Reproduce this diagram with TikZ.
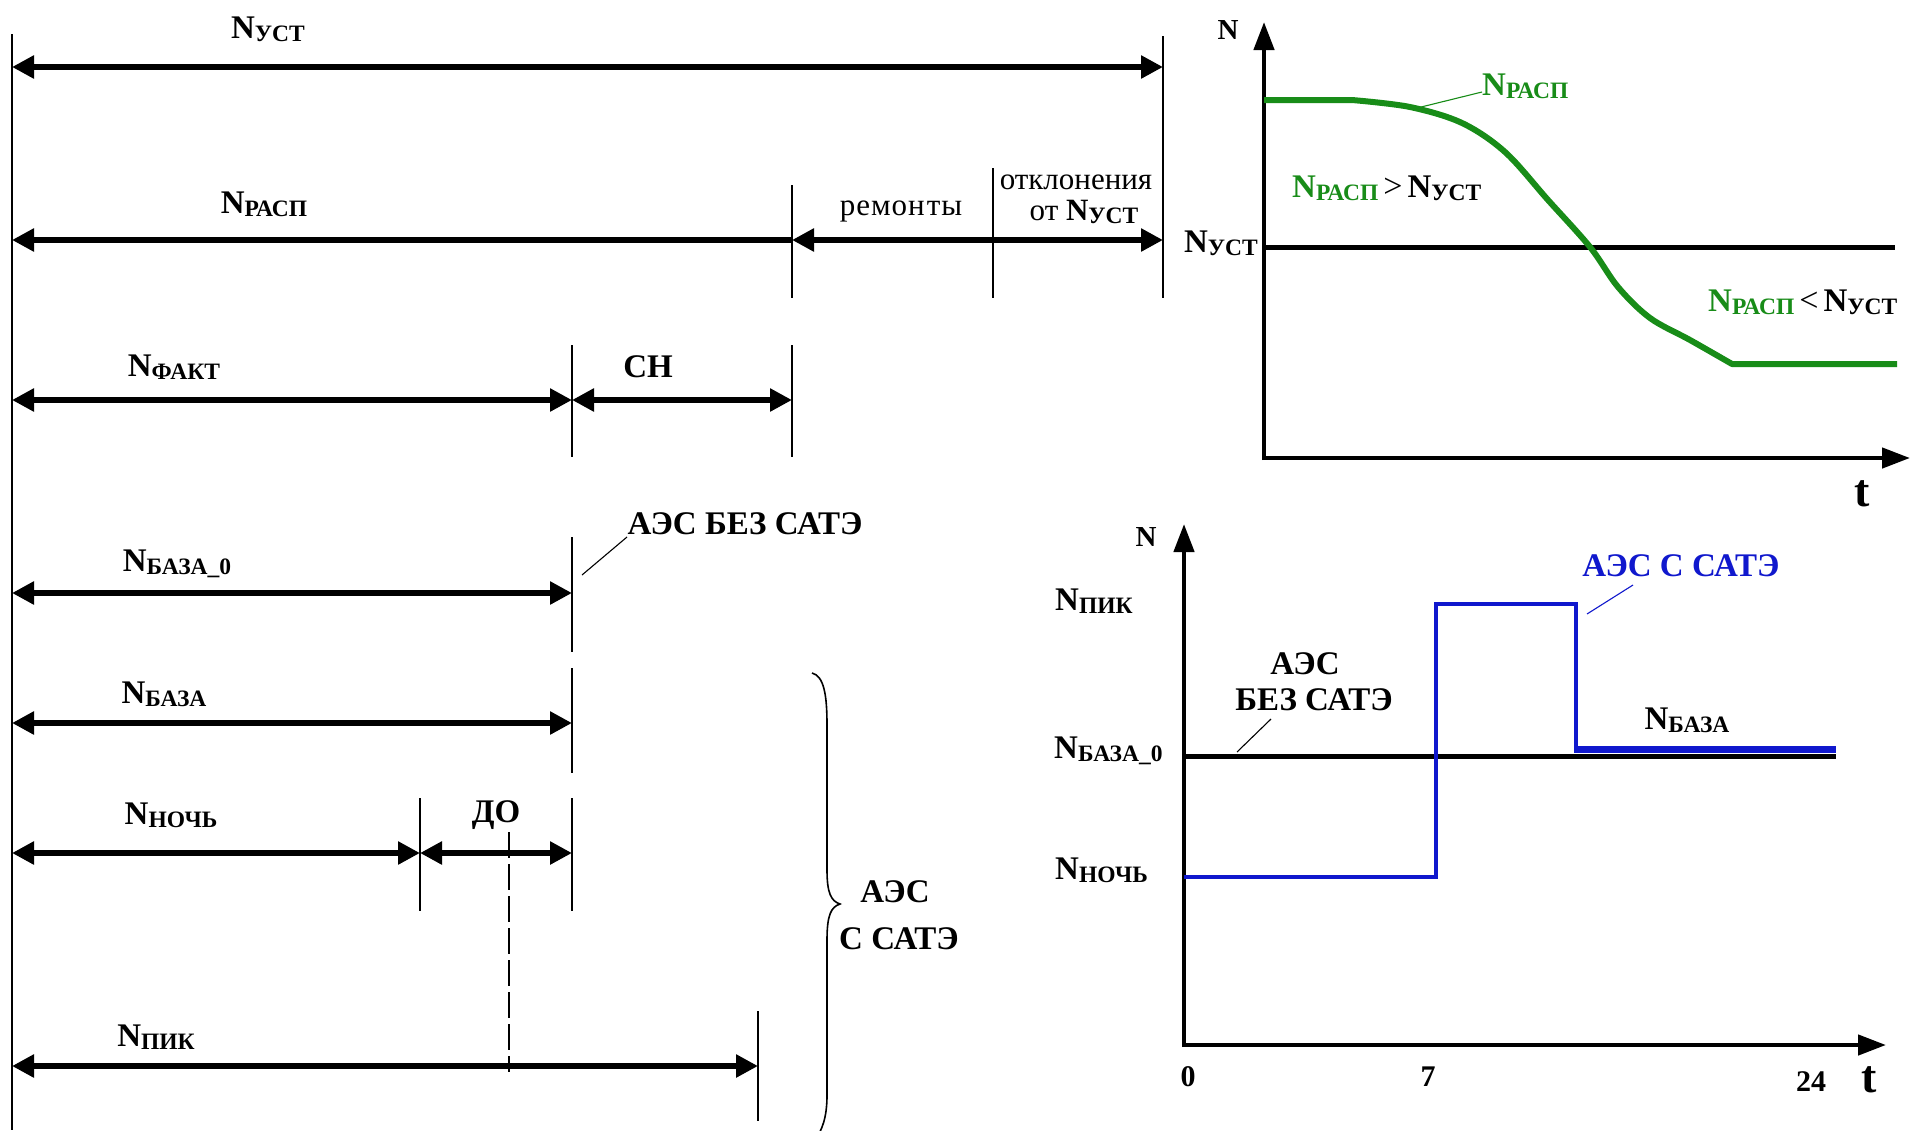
\documentclass[tikz,border=0pt]{standalone}
\usepackage{fontspec}
\setmainfont{Liberation Serif}
\usetikzlibrary{arrows.meta}
\definecolor{gr}{RGB}{24,140,24}
\definecolor{bl}{RGB}{16,24,205}
\newcommand{\NN}[1]{N{\fontsize{23.5}{25}\selectfont\raisebox{-3pt}{#1}}}
\newcommand{\cmpsym}[1]{{\mdseries\fontsize{34}{36}\selectfont\kern5pt #1\kern5pt}}
\begin{document}
\begin{tikzpicture}[x=1pt,y=-1pt,
  dim/.style={line width=6pt,{Triangle[length=22pt,width=22pt]}-{Triangle[length=22pt,width=22pt]}},
  diml/.style={line width=6pt,{Triangle[length=22pt,width=22pt]}-},
  lim/.style={line width=1.6pt},
  ax/.style={line width=4.5pt,-{Triangle[length=28pt,width=20pt]}},
  lb/.style={inner sep=0pt,font=\bfseries\fontsize{33}{36}\selectfont},
  rg/.style={inner sep=0pt,font=\fontsize{31}{34}\selectfont},
  dig/.style={inner sep=0pt,font=\bfseries\fontsize{30}{32}\selectfont},
  leader/.style={line width=1.1pt}]
\useasboundingbox (0,0) rectangle (1910,1130);
\fill[white] (0,0) rectangle (1910,1130);

% ---------- left diagram ----------
\coordinate (top0) at (12,34);
\coordinate (bot0) at (12,1130);
\draw[line width=2pt] (top0) -- (bot0);

% row 1
\coordinate (a1) at (12,67); \coordinate (b1) at (1163,67);
\coordinate (v1t) at (1163,36); \coordinate (v1b) at (1163,298);
\draw[lim] (v1t) -- (v1b);
\draw[dim] (a1) -- (b1);
\node[lb] (nust) at (268,29) {\NN{УСТ}};

% row 2
\coordinate (a2) at (12,240); \coordinate (m2) at (792,240); \coordinate (b2) at (1163,240);
\draw[lim] (792,185) coordinate (v2t) -- (792,298) coordinate (v2b);
\draw[lim] (993,168) coordinate (v3t) -- (993,298) coordinate (v3b);
\draw[diml] (a2) -- (m2);
\draw[dim] (m2) -- (b2);
\node[lb] (nrasp) at (264,204) {\NN{РАСП}};
\node[rg] (rem) at (901,211) {р\kern1pt е\kern1pt м\kern1pt о\kern1pt н\kern2pt т\kern1pt ы};
\node[rg] (otkl) at (1076,182) {отклонения};
\node[rg] (otn) at (1084,212) {от \textbf{\NN{УСТ}}};

% row 3
\coordinate (a3) at (12,400); \coordinate (m3) at (572,400); \coordinate (b3) at (792,400);
\draw[lim] (572,345) coordinate (v4t) -- (572,457) coordinate (v4b);
\draw[lim] (792,345) coordinate (v5t) -- (792,457) coordinate (v5b);
\draw[dim] (a3) -- (m3);
\draw[dim] (m3) -- (b3);
\node[lb] (nfakt) at (174,367) {\NN{ФАКТ}};
\node[lb] (sn) at (648,367) {СН};

% row 4
\coordinate (a4) at (12,593); \coordinate (b4) at (572,593);
\draw[lim] (572,537) coordinate (v6t) -- (572,652) coordinate (v6b);
\draw[dim] (a4) -- (b4);
\node[lb] (nbaza0) at (177,564) {\NN{БАЗА\_0}};
\node[lb] (bez) at (745,524) {АЭС БЕЗ САТЭ};
\coordinate (l1a) at (582,575); \coordinate (l1b) at (627,537);
\draw[leader] (l1a) -- (l1b);

% row 5
\coordinate (a5) at (12,723); \coordinate (b5) at (572,723);
\draw[lim] (572,668) coordinate (v7t) -- (572,773) coordinate (v7b);
\draw[dim] (a5) -- (b5);
\node[lb] (nbaza) at (164,694) {\NN{БАЗА}};

% row 6
\coordinate (a6) at (12,853); \coordinate (m6) at (420,853); \coordinate (b6) at (572,853);
\draw[lim] (420,798) coordinate (v8t) -- (420,911) coordinate (v8b);
\draw[lim] (572,798) coordinate (v9t) -- (572,911) coordinate (v9b);
\draw[dim] (a6) -- (m6);
\draw[dim] (m6) -- (b6);
\node[lb] (nnoch) at (171,815) {\NN{НОЧЬ}};
\node[lb] (do) at (496,815) {ДО};
\coordinate (dsh1) at (509,832); \coordinate (dsh2) at (509,1072);
\draw[line width=1.4pt,dash pattern=on 26pt off 6pt] (dsh1) -- (dsh2);

% row 7
\coordinate (a7) at (12,1066); \coordinate (b7) at (758,1066);
\draw[lim] (758,1011) coordinate (v10t) -- (758,1121) coordinate (v10b);
\draw[dim] (a7) -- (b7);
\node[lb] (npik) at (156,1037) {\NN{ПИК}};

% brace
\draw[line width=1.6pt] (812,673) .. controls (824,676) and (827,695) .. (827,725)
  -- (827,870) .. controls (827,893) and (831,901) .. (840,904)
  .. controls (831,907) and (827,915) .. (827,940)
  -- (827,1095) .. controls (827,1118) and (822,1130) .. (815,1140);
\node[lb] (aes1) at (895,892) {АЭС};
\node[lb] (aes2) at (899,939) {С САТЭ};

% ---------- top right chart ----------
\coordinate (o1) at (1264,458);
\coordinate (y1) at (1264,22);
\coordinate (x1) at (1910,458);
\draw[ax] (1264,460) -- (y1);
\draw[ax] (1262,458) -- (x1);
\node[lb,font=\bfseries\fontsize{29}{32}\selectfont] (n1) at (1228,30) {N};
\node[lb,font=\bfseries\fontsize{46}{50}\selectfont] (t1) at (1862,494) {t};
\coordinate (u1) at (1264,247); \coordinate (u2) at (1895,247);
\draw[line width=5pt] (u1) -- (u2);
\node[lb,anchor=east] (nust2) at (1258,243) {\NN{УСТ}};

\draw[gr,line width=6pt,line join=round] (1264,100) -- (1352,100)
  plot[smooth,tension=0.55] coordinates {(1352,100) (1410,107) (1462,123) (1505,152) (1548,200) (1590,247) (1618,287) (1650,318) (1690,340) (1732,364)}
  -- (1897,364);
\coordinate (gl1) at (1413,109); \coordinate (gl2) at (1482,92);
\draw[gr,leader] (gl1) -- (gl2);
\node[lb,gr,anchor=west] (nrasp2) at (1482,86) {\NN{РАСП}};
\node[lb,anchor=west] (cmp1) at (1292,188) {\textcolor{gr}{\NN{РАСП}}\cmpsym{>}\NN{УСТ}};
\node[lb,anchor=west] (cmp2) at (1708,302) {\textcolor{gr}{\NN{РАСП}}\cmpsym{<}\NN{УСТ}};

% ---------- bottom right chart ----------
\coordinate (o2) at (1184,1045);
\coordinate (y2) at (1184,524);
\coordinate (x2) at (1886,1045);
\draw[ax] (1184,1047) -- (y2);
\draw[ax] (1182,1045) -- (x2);
\node[lb,font=\bfseries\fontsize{29}{32}\selectfont] (n2) at (1146,537) {N};
\node[lb,anchor=west] (npik2) at (1055,601) {\NN{ПИК}};
\node[lb,anchor=west] (nbz2) at (1054,751) {\NN{БАЗА\_0}};
\node[lb,anchor=west] (nno2) at (1055,870) {\NN{НОЧЬ}};
\node[dig] (t0) at (1188,1077) {0};
\node[dig] (t7) at (1428,1077) {7};
\node[dig] (t24) at (1811,1082) {24};
\node[lb,font=\bfseries\fontsize{46}{50}\selectfont] (t2) at (1869,1080) {t};

\coordinate (bz1) at (1184,756); \coordinate (bz2) at (1836,756);
\draw[line width=5pt] (bz1) -- (bz2);
\draw[bl,line width=4.5pt] (1184,877) -- (1436,877) -- (1436,604) -- (1576,604) -- (1576,750);
\draw[bl,line width=7pt] (1574,749) -- (1836,749);

\node[lb,bl] (sate) at (1681,566) {АЭС С САТЭ};
\coordinate (bl1) at (1587,614); \coordinate (bl2) at (1633,585);
\draw[bl,leader] (bl1) -- (bl2);
\node[lb] (bz3) at (1305,664) {АЭС};
\node[lb] (bz4) at (1314,700) {БЕЗ САТЭ};
\coordinate (kl1) at (1237,752); \coordinate (kl2) at (1271,719);
\draw[leader] (kl1) -- (kl2);
\node[lb] (nbaza2) at (1687,720) {\NN{БАЗА}};
\end{tikzpicture}
\end{document}
